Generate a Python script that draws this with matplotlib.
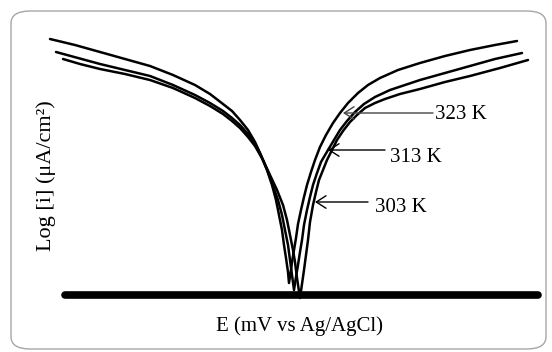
import matplotlib
matplotlib.use("Agg")
import matplotlib.pyplot as plt
from matplotlib.patches import FancyBboxPatch

plt.rcParams['font.family'] = ['Liberation Serif', 'DejaVu Serif']

# potential (mV, relative to Ecorr of 303 K) and log current (arb. units)
temps = ['303 K', '313 K', '323 K']

E_303 = [-237, -220, -200, -175, -150, -127, -105, -90, -77, -68, -60, -52,
         -45, -37, -30, -23, -17, -13, -10, -7, -5, -3, 0,
         2, 4, 6, 8, 10, 13, 16, 19, 23, 27, 32, 37, 43, 50, 57, 65, 75,
         85, 100, 120, 145, 170, 200, 228]
logi_303 = [4.72, 4.62, 4.52, 4.42, 4.30, 4.14, 3.94, 3.78, 3.62, 3.48, 3.34, 3.16,
            2.98, 2.70, 2.40, 2.10, 1.80, 1.50, 1.20, 0.90, 0.66, 0.34, -0.06,
            0.22, 0.50, 0.80, 1.10, 1.46, 1.80, 2.06, 2.30, 2.50, 2.70, 2.90, 3.10,
            3.28, 3.46, 3.60, 3.74, 3.84, 3.92, 4.02, 4.12, 4.26, 4.38, 4.54, 4.70]

E_313 = [-244, -222, -200, -175, -150, -127, -105, -90, -77, -68, -60, -52,
         -45, -38, -32, -27, -22, -18, -15, -12, -10, -8, -6,
         -4, -2, 0, 2, 4, 7, 10, 13, 17, 21, 28, 34, 40, 47, 55, 64, 75,
         90, 105, 120, 145, 170, 195, 222]
logi_313 = [4.86, 4.74, 4.62, 4.50, 4.38, 4.20, 4.00, 3.84, 3.68, 3.54, 3.40, 3.22,
            3.02, 2.74, 2.46, 2.18, 1.90, 1.60, 1.30, 1.00, 0.70, 0.40, 0.10,
            0.36, 0.60, 0.86, 1.10, 1.40, 1.70, 1.96, 2.20, 2.44, 2.66, 2.90, 3.10,
            3.30, 3.48, 3.66, 3.82, 3.96, 4.10, 4.20, 4.30, 4.44, 4.58, 4.72, 4.84]

E_323 = [-250, -225, -200, -175, -150, -127, -105, -90, -77, -68, -60, -52,
         -45, -39, -33, -28, -24, -21, -18, -16, -14, -12, -11,
         -9, -8, -6, -4, -2, 1, 4, 7, 11, 15, 20, 26, 33, 40, 48, 58, 68,
         80, 98, 120, 145, 170, 195, 217]
logi_323 = [5.12, 5.00, 4.86, 4.72, 4.58, 4.40, 4.20, 4.02, 3.82, 3.68, 3.50, 3.30,
            3.06, 2.80, 2.50, 2.20, 1.90, 1.60, 1.30, 1.00, 0.74, 0.46, 0.24,
            0.50, 0.66, 0.90, 1.14, 1.42, 1.70, 1.96, 2.20, 2.46, 2.70, 2.96, 3.20,
            3.44, 3.64, 3.84, 4.04, 4.20, 4.34, 4.50, 4.64, 4.78, 4.90, 5.00, 5.08]

# label arrows: tip on the curve, tail near the label
arrow_tip_E = [15, 28, 43]
arrow_tail_E = [68, 85, 133]
arrow_logi = [1.86, 2.90, 3.64]
label_E = [75, 90, 135]
label_logi = [1.76, 2.76, 3.60]

fig = plt.figure(figsize=(5.52, 3.52), dpi=100)
ax = fig.add_axes([0, 0, 1, 1])
ax.set_xlim(-300, 252)
ax.set_ylim(-1.14, 5.9)
ax.axis('off')

# rounded frame
frame = FancyBboxPatch((11 / 552, 1 - 349 / 352), 535 / 552, 338 / 352,
                       boxstyle="round,pad=0,rounding_size=0.035",
                       transform=fig.transFigure, fill=False,
                       edgecolor='#a6a6a6', linewidth=1.0)
fig.patches.append(frame)

for E, li in [(E_303, logi_303), (E_313, logi_313), (E_323, logi_323)]:
    ax.plot(E, li, color='black', lw=1.8, solid_joinstyle='round',
            solid_capstyle='round')

# thick baseline (x axis)
ax.plot([-235, 238], [0, 0], color='black', lw=5.5, solid_capstyle='round')

for i, t in enumerate(temps):
    ax.annotate('', xy=(arrow_tip_E[i], arrow_logi[i]),
                xytext=(arrow_tail_E[i], arrow_logi[i]),
                arrowprops=dict(arrowstyle='->,head_length=0.7,head_width=0.45',
                                color='#444444' if i == 2 else 'black',
                                lw=1.0, shrinkA=0, shrinkB=0))
    ax.text(label_E[i], label_logi[i], t, ha='left', va='center', fontsize=15)

fig.text(300 / 552, 1 - 326 / 352, 'E (mV vs Ag/AgCl)', ha='center',
         va='center', fontsize=15)
fig.text(46 / 552, 1 - 176 / 352, 'Log [i] (μA/cm²)', ha='center',
         va='center', rotation=90, fontsize=16)

fig.savefig('out.png', dpi=100)
